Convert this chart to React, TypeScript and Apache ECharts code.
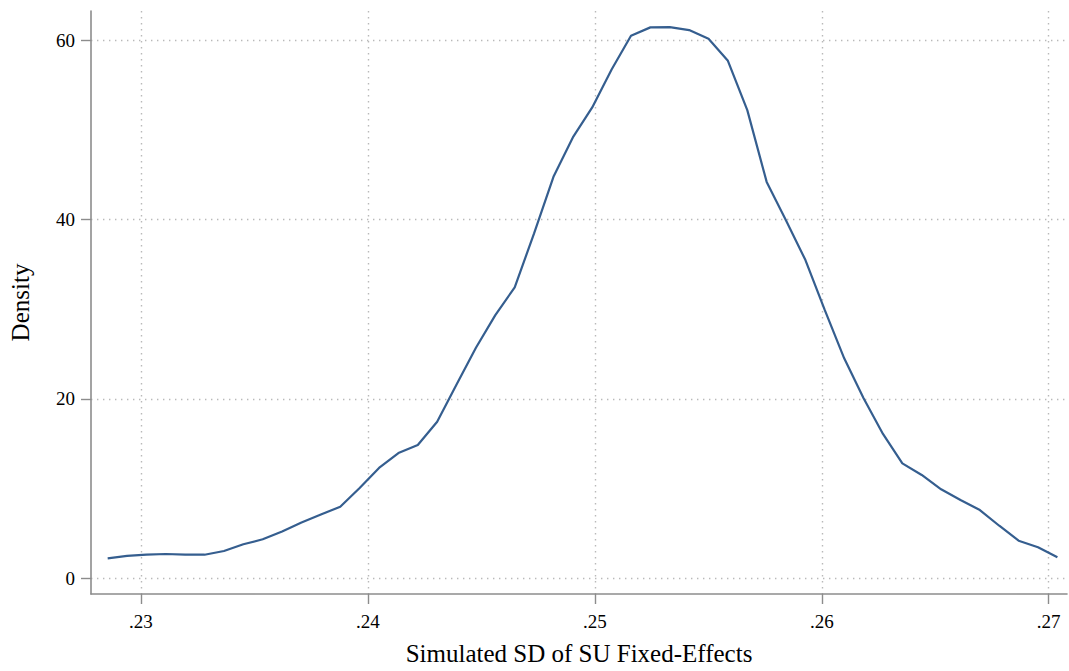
import React, { useEffect, useRef } from "react";
import * as echarts from "echarts";

const xValues = [
  0.228536, 0.22939, 0.230244, 0.231098, 0.231952, 0.232806, 0.23366, 0.234514, 0.235368, 0.236222,
  0.237076, 0.23793, 0.238784, 0.239638, 0.240492, 0.241346, 0.2422, 0.243054, 0.243908, 0.244762,
  0.245616, 0.24647, 0.247324, 0.248178, 0.249032, 0.249886, 0.25074, 0.251594, 0.252448, 0.253302,
  0.254156, 0.25501, 0.255864, 0.256718, 0.257572, 0.258426, 0.25928, 0.260134, 0.260988, 0.261842,
  0.262696, 0.26355, 0.264404, 0.265258, 0.266112, 0.266966, 0.26782, 0.268674, 0.269528, 0.270382,
];

const densityValues = [
  2.23, 2.49, 2.65, 2.71, 2.65, 2.63, 3.04, 3.79, 4.35, 5.22,
  6.22, 7.11, 7.98, 10.07, 12.3, 13.97, 14.86, 17.46, 21.6, 25.7,
  29.35, 32.44, 38.46, 44.77, 49.16, 52.5, 56.74, 60.5, 61.43, 61.46,
  61.13, 60.16, 57.7, 52.2, 44.2, 39.9, 35.48, 29.9, 24.53, 20.07,
  16.1, 12.82, 11.52, 9.92, 8.73, 7.61, 5.86, 4.19, 3.46, 2.34,
];

const xTicks = [0.23, 0.24, 0.25, 0.26, 0.27];
const xTickLabels = [".23", ".24", ".25", ".26", ".27"];
const yTicks = [0, 20, 40, 60];
const yTickLabels = ["0", "20", "40", "60"];

const xTitle = "Simulated SD of SU Fixed-Effects";
const yTitle = "Density";

const FONT = "'Liberation Serif', 'Times New Roman', serif";
const AXIS_GRAY = "#8c8c8c";
const GRID_GRAY = "#b9b9b9";
const LINE_COLOR = "#355e8f";

function labelFor(ticks: number[], labels: string[], v: number): string {
  for (let i = 0; i < ticks.length; i++) {
    if (Math.abs(ticks[i] - v) < 1e-9) return labels[i];
  }
  return "";
}

export default function App() {
  const ref = useRef<HTMLDivElement>(null);

  useEffect(() => {
    if (!ref.current) return;
    const chart = echarts.init(ref.current, null, { renderer: "svg" });
    const data = xValues.map((x, i) => [x, densityValues[i]]);

    chart.setOption({
      animation: false,
      backgroundColor: "#ffffff",
      grid: { left: 89, right: 2, top: 11, bottom: 77, containLabel: false },
      xAxis: {
        type: "value",
        min: 0.2278015,
        max: 0.2708047,
        name: xTitle,
        nameLocation: "middle",
        nameGap: 47,
        nameTextStyle: { fontFamily: FONT, fontSize: 25, color: "#000" },
        axisLine: { show: true, onZero: false, lineStyle: { color: AXIS_GRAY, width: 1.6 } },
        axisTick: {
          show: true,
          length: 10,
          customValues: xTicks,
          lineStyle: { color: AXIS_GRAY, width: 1.4 },
        },
        axisLabel: {
          customValues: xTicks,
          margin: 18,
          fontFamily: FONT,
          fontSize: 19,
          color: "#000",
          formatter: (v: number) => labelFor(xTicks, xTickLabels, v),
        },
        splitLine: {
          show: true,
          lineStyle: { color: GRID_GRAY, width: 1.4, type: [1.4, 4.6] },
        },
      },
      yAxis: {
        type: "value",
        min: -1.751,
        max: 63.256,
        name: yTitle,
        nameLocation: "middle",
        nameGap: 58,
        nameRotate: 90,
        nameTextStyle: { fontFamily: FONT, fontSize: 25, color: "#000" },
        axisLine: { show: true, onZero: false, lineStyle: { color: AXIS_GRAY, width: 1.6 } },
        axisTick: {
          show: true,
          length: 10,
          customValues: yTicks,
          lineStyle: { color: AXIS_GRAY, width: 1.4 },
        },
        axisLabel: {
          customValues: yTicks,
          margin: 16,
          fontFamily: FONT,
          fontSize: 19,
          color: "#000",
          formatter: (v: number) => labelFor(yTicks, yTickLabels, v),
        },
        splitLine: {
          show: true,
          lineStyle: { color: GRID_GRAY, width: 1.4, type: [1.4, 4.6] },
        },
      },
      series: [
        {
          type: "line",
          data,
          showSymbol: false,
          smooth: false,
          lineStyle: { color: LINE_COLOR, width: 2.2 },
          itemStyle: { color: LINE_COLOR },
        },
      ],
    });

    return () => chart.dispose();
  }, []);

  return (
    <div
      ref={ref}
      style={{ position: "fixed", left: 0, top: 0, width: 1069, height: 671, background: "#fff" }}
    />
  );
}
